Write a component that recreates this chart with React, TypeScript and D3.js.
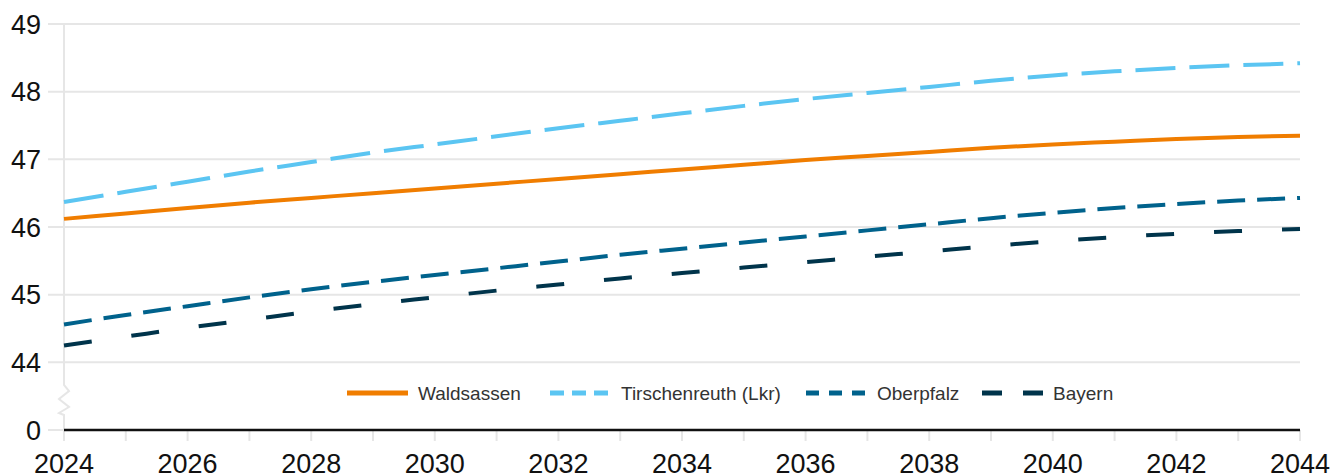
import React, { useEffect } from "react";
import * as d3 from "d3";

const years = d3.range(2024, 2045);
const waldsassen = [46.12, 46.2, 46.28, 46.36, 46.43, 46.5, 46.57, 46.64, 46.71, 46.78, 46.85, 46.92, 46.99, 47.05, 47.11, 47.17, 47.22, 47.26, 47.3, 47.33, 47.35];
const tirschenreuth = [46.37, 46.52, 46.67, 46.82, 46.96, 47.1, 47.22, 47.34, 47.46, 47.57, 47.68, 47.79, 47.89, 47.98, 48.07, 48.16, 48.24, 48.3, 48.35, 48.39, 48.42];
const oberpfalz = [44.56, 44.7, 44.83, 44.96, 45.08, 45.19, 45.29, 45.39, 45.49, 45.59, 45.68, 45.77, 45.86, 45.95, 46.04, 46.13, 46.21, 46.28, 46.34, 46.39, 46.43];
const bayern = [44.25, 44.38, 44.51, 44.63, 44.75, 44.86, 44.96, 45.06, 45.15, 45.24, 45.32, 45.4, 45.48, 45.56, 45.64, 45.72, 45.79, 45.85, 45.9, 45.94, 45.97];
const yTicks = [0, 44, 45, 46, 47, 48, 49];
const xTickLabels = d3.range(2024, 2045, 2);

const seriesNames = ["Waldsassen", "Tirschenreuth (Lkr)", "Oberpfalz", "Bayern"];
const seriesValues = [waldsassen, tirschenreuth, oberpfalz, bayern];
const seriesColors = ["#f07d00", "#5bc5f2", "#00628c", "#00344b"];
const seriesDash = ["none", "40 14", "28 12", "28 40"];
const legendDash = ["none", "14 8", "13 10", "20 21"];
const legendX = [347, 550, 806, 982];

const W = 1335, H = 476;
const font = "'Liberation Sans', Arial, sans-serif";

export default function App() {
  useEffect(() => {
    document.body.style.margin = "0";
  }, []);
  const x = d3.scaleLinear().domain([2024, 2044]).range([64, 1300]);
  const yRaw = d3.scaleLinear().domain([43, 49]).range([430, 24]);
  const y = (v: number) => (v === 0 ? yRaw(43) : yRaw(v));
  const line = d3
    .line<number>()
    .x((_, i) => x(years[i]))
    .y((d) => y(d))
    .curve(d3.curveMonotoneX);

  const zigTop = 385, zigBot = 417;
  const zig = `M64,${y(44)} L64,${zigTop} L69,${zigTop + 6} L59,${zigTop + 14} L69,${zigTop + 22} L59,${zigTop + 28} L64,${zigBot - 2} L64,${y(0)}`;

  return (
    <svg width={W} height={H} style={{ display: "block" }} fontFamily={font}>
      {yTicks.filter((t) => t !== 0).map((t) => (
        <line key={t} x1={48} x2={1300} y1={y(t)} y2={y(t)} stroke="#e6e6e6" strokeWidth={2} />
      ))}
      <line x1={48} x2={64} y1={y(0)} y2={y(0)} stroke="#e6e6e6" strokeWidth={2} />
      <line x1={64} x2={64} y1={y(49)} y2={y(44)} stroke="#e6e6e6" strokeWidth={2} />
      <path d={zig} fill="none" stroke="#e6e6e6" strokeWidth={2} />
      {years.map((yr) => (
        <line key={yr} x1={x(yr)} x2={x(yr)} y1={430} y2={441} stroke="#e6e6e6" strokeWidth={2} />
      ))}
      <line x1={64} x2={1300} y1={430} y2={430} stroke="#111" strokeWidth={2.5} />
      {yTicks.map((t) => (
        <text key={t} x={41} y={y(t)} dy="0.36em" textAnchor="end" fontSize={27} fill="#111">
          {t}
        </text>
      ))}
      {xTickLabels.map((t) => (
        <text key={t} x={x(t)} y={473} textAnchor="middle" fontSize={27} fill="#111">
          {t}
        </text>
      ))}
      {seriesValues.map((vals, i) => (
        <path
          key={seriesNames[i]}
          d={line(vals) || ""}
          fill="none"
          stroke={seriesColors[i]}
          strokeWidth={4}
          strokeDasharray={seriesDash[i]}
        />
      ))}
      {seriesNames.map((n, i) => (
        <g key={n}>
          <line
            x1={legendX[i]}
            x2={legendX[i] + 61}
            y1={393}
            y2={393}
            stroke={seriesColors[i]}
            strokeWidth={5}
            strokeDasharray={legendDash[i]}
          />
          <text x={legendX[i] + 71} y={393} dy="0.36em" fontSize={19} fill="#333">
            {n}
          </text>
        </g>
      ))}
    </svg>
  );
}
